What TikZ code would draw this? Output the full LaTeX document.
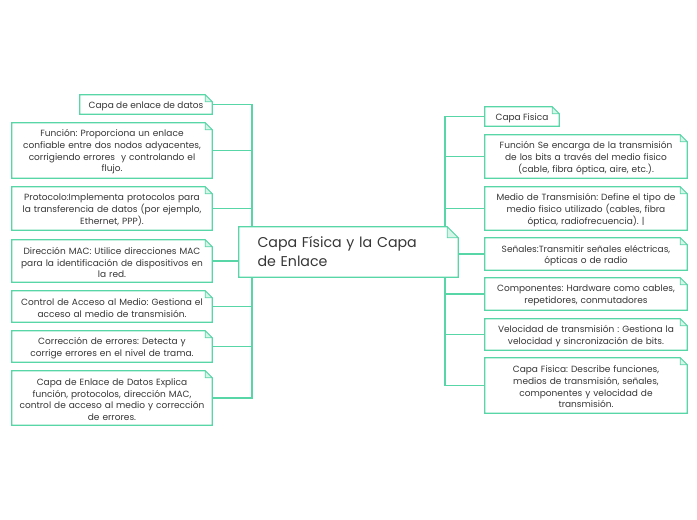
\documentclass[tikz,border=0pt]{standalone}
\usepackage{fontspec}
\setmainfont{Poppins}
\frenchspacing
\usetikzlibrary{backgrounds}
\definecolor{mint}{RGB}{88,214,168}
\definecolor{foldc}{RGB}{214,245,233}
\definecolor{txt}{RGB}{55,55,55}
\tikzset{
  note/.style={draw=none, inner sep=0pt, align=center, text=txt,
    font=\fontsize{9}{11.7}\selectfont, yshift=-1.5pt},
  lbox/.style={note, minimum width=200pt, text width=196pt},
  rbox/.style={note, minimum width=202pt, text width=198pt},
  frame/.style={draw=mint, line width=1.2pt, fill=white, line join=miter},
  conn/.style={draw=mint, line width=1.2pt},
}
% #1 node, #2 fold size, #3 vertical correction
\newcommand\noteframe[3]{%
  \draw[frame] ([yshift=#3]#1.north west) -- ([xshift=-#2,yshift=#3]#1.north east) -- ([yshift=-#2+#3]#1.north east) -- ([yshift=#3]#1.south east) -- ([yshift=#3]#1.south west) -- cycle;
  \draw[frame, fill=foldc, line width=0.8pt] ([xshift=-#2,yshift=#3]#1.north east) -- ([xshift=-#2,yshift=-#2+#3]#1.north east) -- ([yshift=-#2+#3]#1.north east) -- cycle;}
\begin{document}
\begin{tikzpicture}[x=1pt,y=-1pt]
\useasboundingbox (0,0) rectangle (697,520);
% center
\node[note, yshift=1.5pt, minimum width=219pt, minimum height=50pt, text width=200pt, align=left,
  font=\fontsize{14.2}{19}\selectfont] (C) at (348.5,252) {\hspace*{9pt}Capa Física y la Capa\\\hspace*{9pt}de Enlace};
% left
\node[note, minimum width=132pt, minimum height=19pt] (L1) at (146,104.5) {Capa de enlace de datos};
\node[lbox, minimum height=55pt] (L2) at (112,150.5) {Función: Proporciona un enlace\\confiable entre dos nodos adyacentes,\\corrigiendo errores \ y controlando el\\flujo.};
\node[lbox, minimum height=43pt] (L3) at (112,208.5) {Protocolo:Implementa protocolos para\\la transferencia de datos (por ejemplo,\\Ethernet, PPP).};
\node[lbox, minimum height=42pt] (L4) at (112,261) {Dirección MAC: Utilice direcciones MAC\\para la identificación de dispositivos en\\la red.};
\node[lbox, minimum height=31pt] (L5) at (112,306.5) {Control de Acceso al Medio: Gestiona el\\acceso al medio de transmisión.};
\node[lbox, minimum height=31pt] (L6) at (112,346.5) {Corrección de errores: Detecta y\\corrige errores en el nivel de trama.};
\node[lbox, minimum height=54pt] (L7) at (112,398) {Capa de Enlace de Datos Explica\\función, protocolos, dirección MAC,\\control de acceso al medio y corrección\\de errores.};
% right
\node[note, minimum width=74pt, minimum height=19pt] (R1) at (522,116.5) {Capa Fisica};
\node[rbox, minimum height=43pt] (R2) at (586,156.5) {Función Se encarga de la transmisión\\de los bits a través del medio fisico\\(cable, fibra óptica, aire, etc.).};
\node[rbox, minimum height=43pt] (R3) at (586,208.5) {Medio de Transmisión: Define el tipo de\\medio fisico utilizado (cables, fibra\\óptica, radiofrecuencia). |};
\node[rbox, minimum height=32pt] (R4) at (586,254) {Señales:Transmitir señales eléctricas,\\ópticas o de radio};
\node[rbox, minimum height=32pt] (R5) at (586,294) {Componentes: Hardware como cables,\\repetidores, conmutadores};
\node[rbox, minimum height=31pt] (R6) at (586,334.5) {Velocidad de transmisión : Gestiona la\\velocidad y sincronización de bits.};
\node[rbox, minimum height=55pt] (R7) at (586,385.5) {Capa Fisica: Describe funciones,\\medios de transmisión, señales,\\componentes y velocidad de\\transmisión.};
\coordinate (tl) at (252,0);
\coordinate (tr) at (445,0);
\begin{pgfonlayer}{background}
  \fill[white] (0,0) rectangle (697,520);
  \draw[conn] ([yshift=1.5pt]L1.east) -- ([yshift=1.5pt]L1.east -| tl) -- ([yshift=1.5pt]L7.east -| tl) -- ([yshift=1.5pt]L7.east);
  \foreach \n in {L2,L3,L4,L5,L6} {\draw[conn] ([yshift=1.5pt]\n.east) -- ([yshift=1.5pt]\n.east -| tl);}
  \draw[conn] ([yshift=1.5pt]R1.west) -- ([yshift=1.5pt]R1.west -| tr) -- ([yshift=1.5pt]R7.west -| tr) -- ([yshift=1.5pt]R7.west);
  \foreach \n in {R2,R3,R4,R5,R6} {\draw[conn] ([yshift=1.5pt]\n.west) -- ([yshift=1.5pt]\n.west -| tr);}
  \foreach \n in {L1,L2,L3,L4,L5,L6,L7,R1,R2,R3,R4,R5,R6,R7} {\noteframe{\n}{7pt}{1.5pt}}
  \noteframe{C}{11pt}{0pt}
\end{pgfonlayer}
\end{tikzpicture}
\end{document}
